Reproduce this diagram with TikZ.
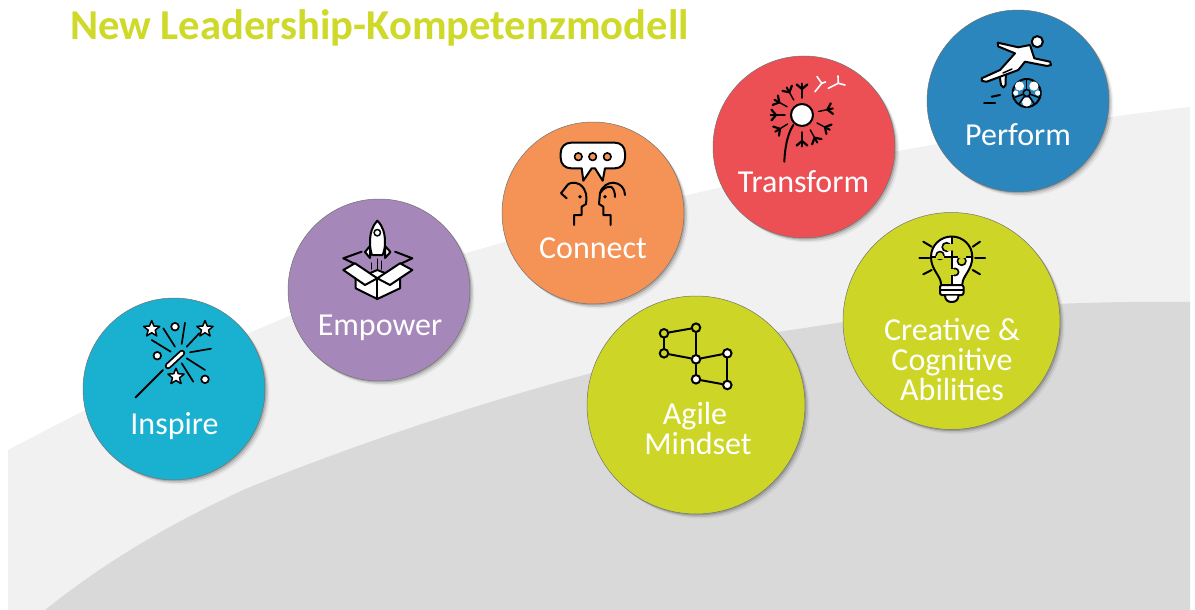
\documentclass[tikz,border=0pt]{standalone}
\usepackage{fontspec}
\setmainfont{Carlito}
\usetikzlibrary{shadows}
\definecolor{bglight}{HTML}{F1F1F1}
\definecolor{bgdark}{HTML}{D9D9D9}
\definecolor{cinspire}{HTML}{1AB0D0}
\definecolor{cempower}{HTML}{A588B9}
\definecolor{cconnect}{HTML}{F49355}
\definecolor{ctransform}{HTML}{EC5054}
\definecolor{cperform}{HTML}{2A86BC}
\definecolor{cgreen}{HTML}{CDD626}
\definecolor{ctitle}{HTML}{CFD92A}
\tikzset{
  disc/.style={circle,inner sep=0pt,minimum size=#1,draw=black!55,line width=.5pt,
    drop shadow={shadow xshift=1.5pt,shadow yshift=-1.5pt,opacity=.16,fill=black},
    drop shadow={shadow xshift=3pt,shadow yshift=-3pt,opacity=.10,fill=black},
    drop shadow={shadow xshift=4.5pt,shadow yshift=-4.5pt,opacity=.05,fill=black}},
  word/.style={text=white,font=\fontsize{32}{32}\selectfont,inner sep=0pt,anchor=base},
  ink/.style={draw=black,line width=2pt,line cap=round,line join=round},
  thin ink/.style={draw=black,line width=1.5pt,line cap=round,line join=round},
  dot/.style={circle,inner sep=0pt,minimum size=8.5pt,draw=black,line width=2pt},
}
\begin{document}
\begin{tikzpicture}[x=1pt,y=-1pt]
\useasboundingbox (0,0) rectangle (1195,610);
% background bands
\fill[bglight] (8,450) .. controls (150,375) and (330,290) .. (470,252)
  .. controls (700,185) and (950,135) .. (1190,107) -- (1190,610) -- (8,610) -- cycle;
\fill[bgdark] (45,610) .. controls (120,550) and (190,515) .. (243,490)
  .. controls (400,425) and (640,350) .. (805,328)
  .. controls (900,312) and (1050,300) .. (1190,302) -- (1190,610) -- cycle;
% title
\node[text=ctitle,font=\bfseries\fontsize{42.6}{42.6}\selectfont,inner sep=0pt,anchor=base west] (title) at (70,40) {New Leadership-Kompetenzmodell};
% discs
\node[disc=182pt,fill=cinspire] (inspire) at (174,389) {};
\node[disc=182pt,fill=cempower] (empower) at (379,290) {};
\node[disc=182pt,fill=cconnect] (connect) at (593,213) {};
\node[disc=182pt,fill=ctransform] (transform) at (804,147) {};
\node[disc=182pt,fill=cperform] (perform) at (1018,101) {};
\node[disc=218pt,fill=cgreen] (agile) at (696,405) {};
\node[disc=217pt,fill=cgreen] (creative) at (951.5,321) {};
% labels
\node[word] (tinspire) at (174.5,434) {Inspire};
\node[word] (tempower) at (380,335) {Empower};
\node[word] (tconnect) at (593,258) {Connect};
\node[word] (ttransform) at (803.5,192) {Transform};
\node[word] (tperform) at (1018,145) {Perform};
\node[word] (tagile) at (695,424) {Agile};
\node[word] (tmindset) at (698,454) {Mindset};
\node[word] (tcreative) at (952,340) {Creative \&};
\node[word] (tcognitive) at (952,370) {Cognitive};
\node[word] (tabilities) at (952,400) {Abilities};
% --- Inspire icon
\draw[ink] (135.7,397.3) -- (163,370);
\draw[black,line width=6.5pt,line cap=round] (168,366) -- (182,353);
\draw[white,line width=3pt,line cap=round] (168,366) -- (182,353);
\foreach \a/\b/\c/\d in {163.3/328.3/175/346.7,185/322.7/181.7/344,199.3/333.3/186.7/346.7,151.7/340/170.7/351.7,190/352.3/211/348.7,186.7/358.3/205/370,181.7/363.3/193.3/381.7}
  \draw[ink,line width=1.7pt] (\a,\b) -- (\c,\d);
\foreach \x/\y in {175/326.7,157.3/355.7,205/379.3}
  \draw[ink,fill=white,line width=1.7pt] (\x,\y) circle (3.8);
\foreach \x/\y in {151.7/329,205/329,176/376.7}
  \draw[ink,fill=white,line width=1.5pt,shift={(\x,\y)},scale=1.3] (0,-6.5) -- ++(1.7,4.2) -- ++(4.5,.3) -- ++(-3.5,2.9) -- ++(1.2,4.4) -- ++(-3.9,-2.4) -- ++(-3.9,2.4) -- ++(1.2,-4.4) -- ++(-3.5,-2.9) -- ++(4.5,-.3) -- cycle;
% --- Empower icon
\draw[ink,fill=white] (370,246) -- (365,252) -- (370,258) -- cycle;
\draw[ink,fill=white] (385,246) -- (390.5,252) -- (385,258) -- cycle;
\draw[ink,fill=white] (377.3,220.7) .. controls (372,226) and (370,234) .. (370,242) .. controls (370,248) and (371,252) .. (372,255) -- (382.5,255) .. controls (384,252) and (385,248) .. (385,242) .. controls (385,234) and (383,226) .. (377.3,220.7) -- cycle;
\draw[thin ink] (377.3,232.7) circle (3.2);
\draw[ink,line width=1.5pt] (371.7,263) -- (371.7,269) (377.3,259) -- (377.3,270) (381.7,261) -- (381.7,269);
\draw[ink] (361.7,251.7) -- (343.3,258.3) -- (357,265);
\draw[ink] (395,251.7) -- (412.3,258.3) -- (398,265);
\draw[ink,fill=white] (355.7,279) -- (355.7,288.3) -- (377.3,299) -- (400,288.3) -- (400,279) -- (377.3,270) -- cycle;
\draw[ink] (377.3,278.3) -- (377.3,299);
\draw[ink,fill=white] (343.3,270) -- (355,263.3) -- (377.3,278.3) -- (365,285) -- cycle;
\draw[ink,fill=white] (412.3,270) -- (400,263.3) -- (377.3,278.3) -- (390,285) -- cycle;
% --- Connect icon
\draw[ink,fill=white] (571,142.7) -- (615,142.7) .. controls (621,142.7) and (625,147) .. (625,153) -- (625,158) .. controls (625,164) and (621,168.3) .. (615,168.3) -- (605,168.3) -- (602.7,180.7) -- (595,168.3) -- (591.7,168.3) -- (583.3,180.7) -- (581.7,168.3) -- (571,168.3) .. controls (565,168.3) and (560.7,164) .. (560.7,158) -- (560.7,153) .. controls (560.7,147) and (565,142.7) .. (571,142.7) -- cycle;
\foreach \x in {578.3,592.7,607.3}
  \draw[ink,fill=cconnect,line width=1.6pt] (\x,156.7) circle (3.8);
\draw[ink] (574,225) -- (574,215) -- (581.7,215) -- (581.7,206.7) -- (586,204) .. controls (587,197) and (587,190) .. (580,184.5) .. controls (574,181) and (568,183) .. (566.7,186) -- (561,193.3) -- (566.7,198.3);
\fill[black] (580,196.7) circle (1.9);
\draw[ink] (610.7,225) -- (610.7,215) -- (603.3,215) -- (603.3,206.7) -- (599,204) -- (600,193.3) .. controls (602,186) and (608,182.7) .. (613.3,182.7) .. controls (620,183) and (625,188) .. (625,195);
\draw[ink] (600,193.3) .. controls (603,188) and (608,186) .. (611.5,187) .. controls (614,189) and (615,193) .. (615,197);
\fill[black] (605,196.7) circle (1.9);
% --- Transform icon
\coordinate (dandelion) at (802,115);
\draw[ink] (793.3,125) .. controls (787,135) and (785,148) .. (784.3,161.7);
\draw[ink,fill=white] (dandelion) circle (11);
\foreach \a in {-90,-119,-151,180,148,90,61,28,-12}{
  \draw[ink,line width=1.4pt] ([shift={(dandelion)}]\a:17) -- ([shift={(dandelion)}]\a:27);
  \draw[ink,line width=2.2pt] ([shift={(dandelion)}]\a+10:31) -- ([shift={(dandelion)}]\a:26) -- ([shift={(dandelion)}]\a-10:31);
  \draw[ink,line width=2pt] ([shift={(dandelion)}]\a:26) -- ([shift={(dandelion)}]\a:31.5);
}
\draw[white,line width=1.6pt,line cap=round] (815,91.7) -- (821.7,83.3) (817,76.5) -- (821.7,83.3) -- (825.5,82);
\draw[white,line width=1.6pt,line cap=round] (828.3,88.3) -- (838.3,83.3) (838,76) -- (838.3,83.3) -- (845,85);
% --- Perform icon
\draw[ink,fill=white] (1037.3,41.7) circle (5.6);
\draw[ink,fill=white] (999,72) -- (1001,85) -- (1003.5,87.5) -- (1005.5,85) -- (1006,70) -- cycle;
\draw[ink,fill=white] (997.7,42.7) -- (1018.3,47.3) -- (1030,45) -- (1034.3,58.3) -- (1050,61.7) -- (1051,65) -- (1047,66) -- (1033.3,63.3) -- (1025,61.7) -- (1018.3,70) -- (986.7,81.7) -- (982,81) -- (981.7,78.3) -- (1000,70) -- (1015,53.3) -- (998.3,46.5) -- cycle;
\draw[thin ink] (1003,73) -- (1012,69);
\draw[ink,fill=cperform] (1026.7,93) circle (14);
\foreach \a/\r in {-136/10,-44/10,90/9}
  \fill[white] ([shift={(1026.7,93)}]\a:\r) circle (4.6);
\foreach \a in {180,0}
  \fill[white] ([shift={(1026.7,93)}]\a:11) circle (2.6);
\foreach \a in {-90,20,160,55,125}
  \draw[black,line width=1.5pt] ([shift={(1026.7,93)}]\a:3.5) -- ([shift={(1026.7,93)}]\a:13);
\draw[black,line width=1.5pt] (1026.7,93) circle (3.5);
\draw[ink] (991.7,96.7) -- (1000,95);
\draw[ink] (984,102.7) -- (995,102.7);
% --- Agile icon
\node[dot,fill=cgreen] (a1) at (664,333.3) {};
\node[dot,fill=cgreen] (a2) at (696,327.7) {};
\node[dot,fill=cgreen] (a3) at (664,353.3) {};
\node[dot,fill=white] (a4) at (696,359.3) {};
\node[dot,fill=white] (a5) at (727.3,353.3) {};
\node[dot,fill=white] (a6) at (696,379.3) {};
\node[dot,fill=white] (a7) at (727.3,385) {};
\draw[ink] (a1) -- (a2);
\draw[ink] (a1) -- (a3);
\draw[ink] (a2) -- (a4);
\draw[ink] (a3) -- (a4);
\draw[ink] (a4) -- (a5);
\draw[ink] (a4) -- (a6);
\draw[ink] (a5) -- (a7);
\draw[ink] (a6) -- (a7);
% --- Creative icon
\foreach \a/\b/\c/\d in {919.3/257.7/929.3/257.7,975/257.7/985/257.7,923.3/241.7/931.7/246.7,980/241.7/972.7/246.7,923.3/274.3/931.7/270,980/274.3/972.7/270}
  \draw[ink] (\a,\b) -- (\c,\d);
\begin{scope}
  \clip (941,284) .. controls (941,276) and (931,270) .. (931,257) .. controls (931,245) and (940.7,236.5) .. (951.7,236.5) .. controls (962.7,236.5) and (972.3,245) .. (972.3,257) .. controls (972.3,270) and (962.4,276) .. (962.4,284) -- cycle;
  \fill[white] (930,236) rectangle (951.7,257);
  \fill[white] (951.7,257) rectangle (973,285);
  \draw[ink,line width=1.6pt] (951.7,236) -- (951.7,285) (930,257) -- (973,257);
  \draw[ink,fill=cgreen,line width=1.6pt] (946.5,247) circle (4.3);
  \fill[cgreen] (947,243.5) rectangle (953,250.5);
  \draw[ink,fill=cgreen,line width=1.6pt] (940,255.5) circle (4);
  \fill[cgreen] (936,255.5) rectangle (944,259);
  \draw[ink,fill=cgreen,line width=1.6pt] (961.7,261) circle (4.3);
  \fill[cgreen] (958,254) rectangle (965.5,258);
  \draw[ink,fill=cgreen,line width=1.6pt] (955,272) circle (3.6);
  \fill[cgreen] (950,269) rectangle (954,275);
  \draw[ink,line width=1.6pt] (951.7,236) -- (951.7,243) (951.7,251) -- (951.7,268) (951.7,276) -- (951.7,285);
\end{scope}
\draw[ink] (941,284) .. controls (941,276) and (931,270) .. (931,257) .. controls (931,245) and (940.7,236.5) .. (951.7,236.5) .. controls (962.7,236.5) and (972.3,245) .. (972.3,257) .. controls (972.3,270) and (962.4,276) .. (962.4,284);
\draw[ink,fill=white,rounded corners=2pt] (940,285) rectangle (963.5,295);
\draw[ink,line width=1.5pt] (940,290) -- (963.5,290);
\draw[ink,fill=white] (945,295.5) .. controls (945,300) and (948,302) .. (951.7,302) .. controls (955.4,302) and (958.5,300) .. (958.5,295.5);
\end{tikzpicture}
\end{document}
